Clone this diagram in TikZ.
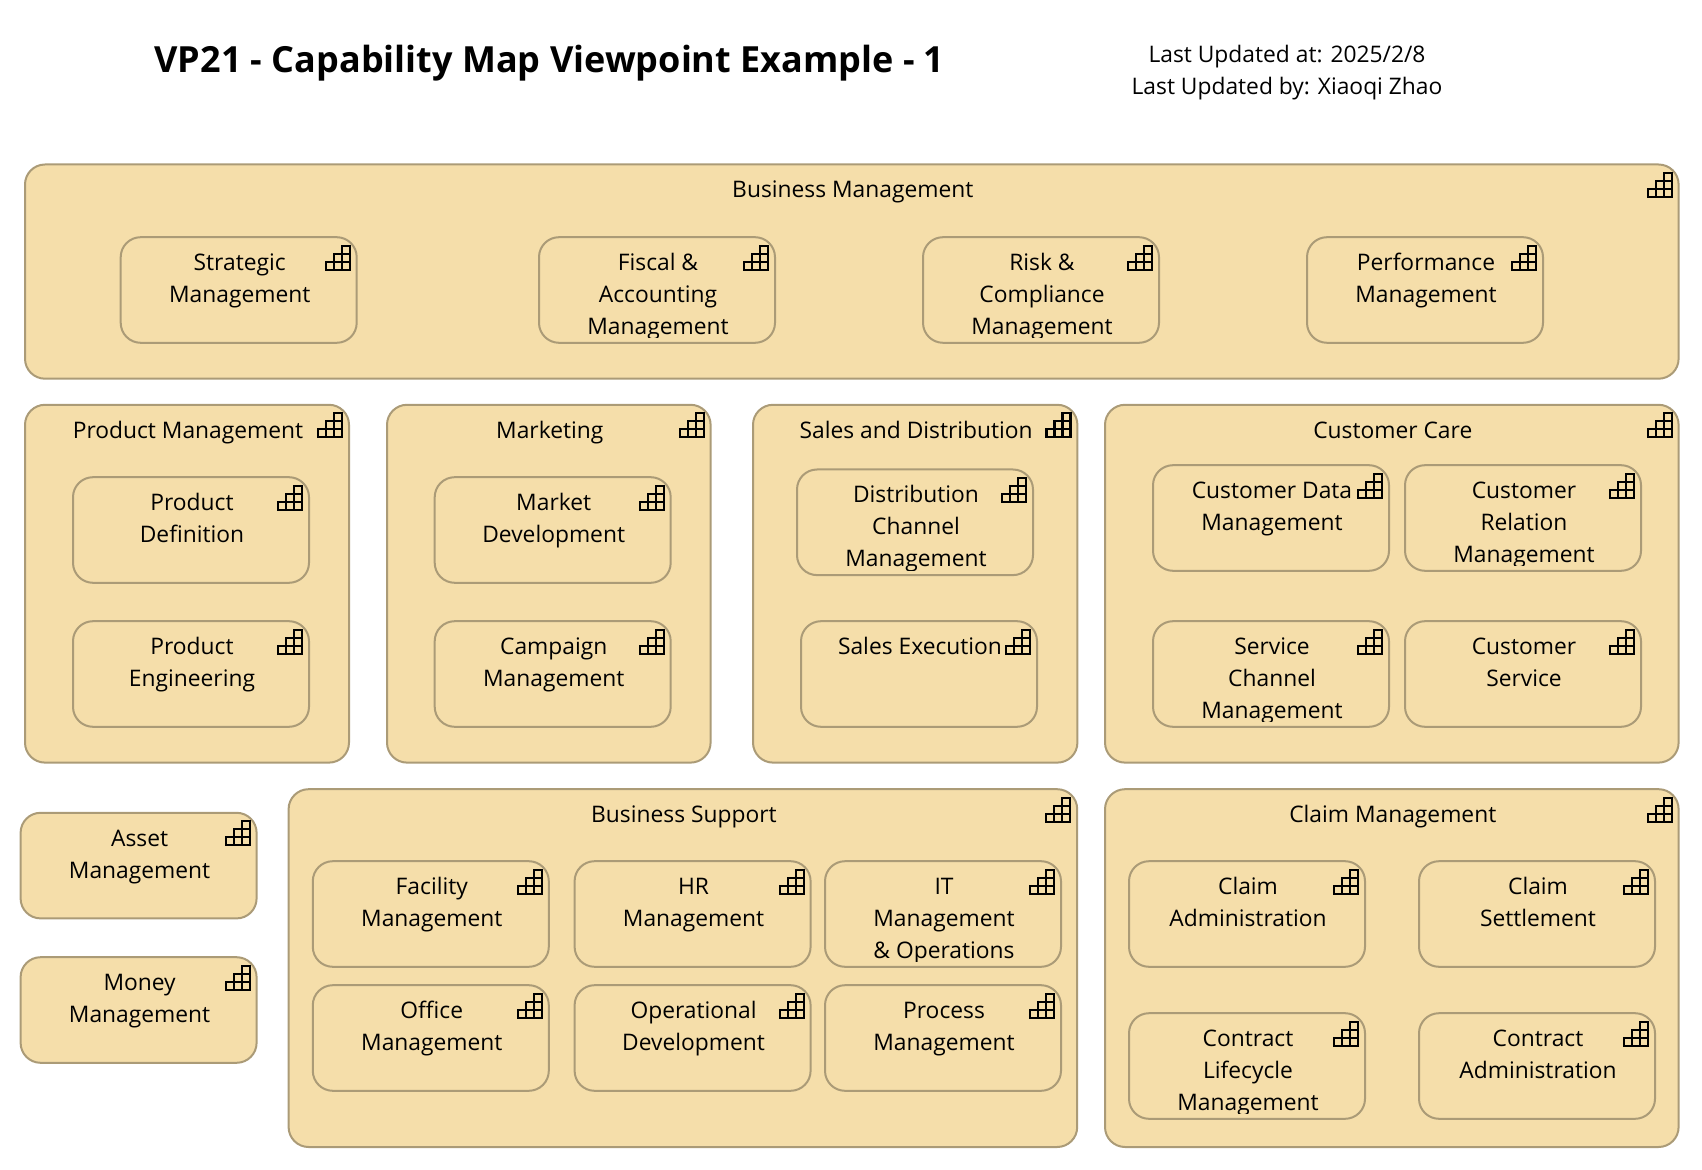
\documentclass[tikz,border=0pt]{standalone}
\usepackage{fontspec}
\setmainfont{Open Sans}
\definecolor{capfill}{HTML}{F5DEAA}
\definecolor{capline}{HTML}{AB9B77}
\tikzset{
  capshape/.style={draw=capline,fill=capfill,line width=1pt,rounded corners=10pt,
    anchor=north west,inner sep=0pt,outer sep=0pt,xshift=-0.5pt,yshift=0.25pt},
  capbox/.style={capshape,minimum width=118pt,minimum height=52.8pt},
  captext/.style={anchor=north,inner sep=0pt,outer sep=0pt,align=center,xshift=0.5pt,yshift=-5.5pt,
    font=\fontsize{11.4}{16}\selectfont},
  titletext/.style={anchor=base,inner sep=0pt,font=\fontsize{18}{22}\selectfont\bfseries},
  stairs/.pic={
    \draw[black,line width=1.1pt] (-7,8.5) rectangle (-15,32.5);
    \draw[black,line width=1.1pt] (-15,16.5) rectangle (-23,32.5);
    \draw[black,line width=1.1pt] (-23,24.5) rectangle (-31,32.5);
    \draw[black,line width=1.1pt] (-7,24.5) -- (-23,24.5);
    \draw[black,line width=1.1pt] (-7,16.5) -- (-15,16.5);
  }
}
\newcommand{\capgroup}[6]{
  \node[capshape,minimum width=#4pt+0.8pt,minimum height=#5pt+0.6pt] (#1) at (#2,#3) {};
  \node[captext] (#1text) at (#1.north) {\strut #6};
  \pic at (#1.north east) {stairs};
}
\newcommand{\capitem}[4]{
  \node[capbox] (#1) at (#2,#3) {};
  \begin{scope}
    \clip (#1.north west) rectangle ([yshift=2.5pt]#1.south east);
    \node[captext] (#1text) at (#1.north) {\strut #4};
  \end{scope}
  \pic at (#1.north east) {stairs};
}
\begin{document}
\begin{tikzpicture}[x=0.5pt,y=-0.5pt]
\useasboundingbox (0,0) rectangle (1702,1170);
\node[titletext] (title) at (549.5,72.5) {VP21 - Capability Map Viewpoint Example - 1};
\node[captext,yshift=5.5pt] (updated) at (1286,40.6) {\strut Last Updated at: 2025/2/8\\Last Updated by: Xiaoqi Zhao};

\capgroup{business}{26}{165}{826}{106.5}{Business Management}
\capgroup{product}{26}{405.3}{161.2}{178.3}{Product Management}
\capgroup{marketing}{388}{405.3}{161}{178.3}{Marketing}
\capgroup{sales}{754}{405.3}{161.4}{178.3}{Sales and Distribution}
\capgroup{care}{1106}{405.3}{286}{178.3}{Customer Care}
\capgroup{support}{289.6}{789.7}{393.5}{178.3}{Business Support}
\capgroup{claim}{1106}{789.7}{286}{178.3}{Claim Management}

\capitem{strategic}{121.7}{237.7}{Strategic\\Management}
\capitem{fiscal}{540}{237.7}{Fiscal \&\\Accounting\\Management}
\capitem{risk}{924}{237.7}{Risk \&\\Compliance\\Management}
\capitem{performance}{1308}{237.7}{Performance\\Management}

\capitem{definition}{74}{477.7}{Product\\Definition}
\capitem{engineering}{74}{621.7}{Product\\Engineering}
\capitem{development}{435.7}{477.7}{Market\\Development}
\capitem{campaign}{435.7}{621.7}{Campaign\\Management}
\capitem{distribution}{798}{470}{Distribution\\Channel\\Management}
\capitem{execution}{802}{621.7}{Sales Execution}
\capitem{custdata}{1154}{465.7}{Customer Data\\Management}
\capitem{relation}{1406}{465.7}{Customer\\Relation\\Management}
\capitem{channel}{1154}{621.7}{Service\\Channel\\Management}
\capitem{service}{1406}{621.7}{Customer\\Service}

\capitem{asset}{21.6}{813.3}{Asset\\Management}
\capitem{money}{21.6}{957.7}{Money\\Management}

\capitem{facility}{313.8}{861.7}{Facility\\Management}
\capitem{hr}{575.6}{861.7}{HR\\Management}
\capitem{it}{826}{861.7}{IT\\Management\\\& Operations}
\capitem{office}{313.8}{985.7}{Office\\Management}
\capitem{operational}{575.6}{985.7}{Operational\\Development}
\capitem{process}{826}{985.7}{Process\\Management}

\capitem{administration}{1130}{861.7}{Claim\\Administration}
\capitem{settlement}{1420}{861.7}{Claim\\Settlement}
\capitem{lifecycle}{1130}{1013.7}{Contract\\Lifecycle\\Management}
\capitem{contract}{1420}{1013.7}{Contract\\Administration}
\end{tikzpicture}
\end{document}
